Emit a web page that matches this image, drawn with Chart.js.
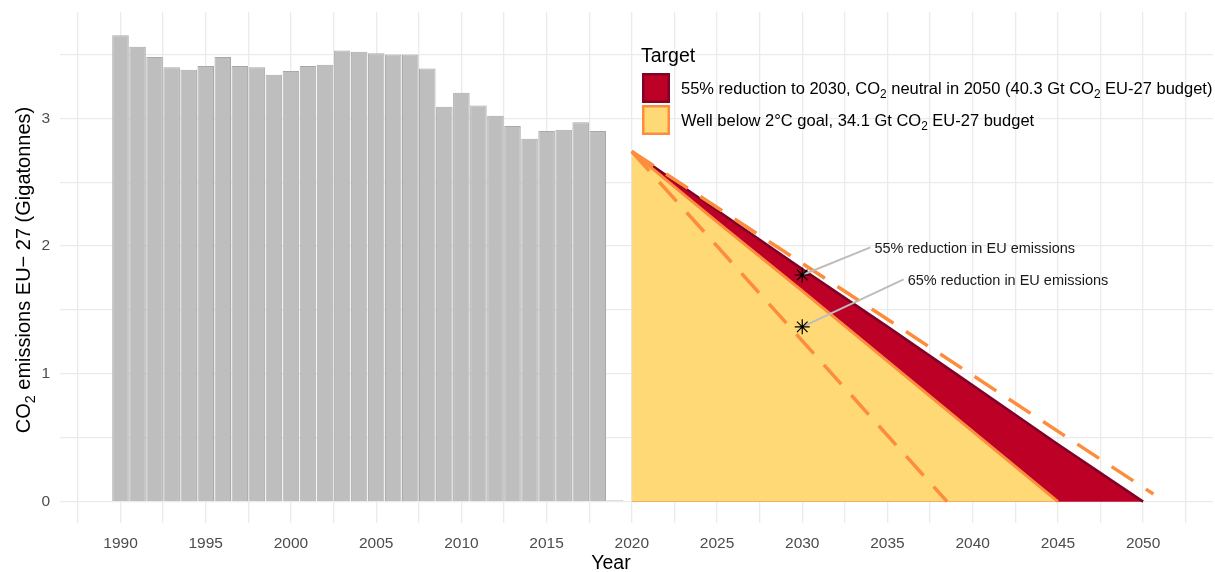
<!DOCTYPE html>
<html>
<head>
<meta charset="utf-8">
<script src="https://cdn.jsdelivr.net/npm/chart.js@4.4.1/dist/chart.umd.min.js"></script>
<style>
html,body{margin:0;padding:0;background:#ffffff;}
#wrap{width:1215px;height:572px;position:relative;}
</style>
</head>
<body>
<div id="wrap"><canvas id="c" width="1215" height="572"></canvas></div>
<script>
// ---------------- DATA ----------------
const histYears = [1990,1991,1992,1993,1994,1995,1996,1997,1998,1999,
                   2000,2001,2002,2003,2004,2005,2006,2007,2008,2009,
                   2010,2011,2012,2013,2014,2015,2016,2017,2018,2019];
const histEmissions = [3.65,3.56,3.48,3.40,3.38,3.41,3.48,3.41,3.40,3.34,
                       3.37,3.41,3.42,3.53,3.52,3.51,3.50,3.50,3.39,3.09,
                       3.20,3.10,3.02,2.94,2.84,2.90,2.91,2.97,2.90,0.012];

const neutralYears = [2020,2025,2030,2035,2040,2045,2050];
const neutralValues = [2.74,2.28,1.82,1.37,0.91,0.45,0.00];

const below2Years = [2020,2025,2030,2035,2040,2045];
const below2Values = [2.74,2.19,1.65,1.10,0.55,0.00];

const upperRefYears = [2020,2050.6];
const upperRefValues = [2.74,0.06];
const lowerRefYears = [2020,2038.5];
const lowerRefValues = [2.74,0.00];

const markerYears = [2030,2030];
const markerValues = [1.774,1.368];
const markerLabels = ['55% reduction in EU emissions','65% reduction in EU emissions'];
const labelYears = [2034.0,2035.95];
const labelValues = [1.99,1.74];

const xTickLabels = [1990,1995,2000,2005,2010,2015,2020,2025,2030,2035,2040,2045,2050];
const xGridYears = [1987.5,1990,1992.5,1995,1997.5,2000,2002.5,2005,2007.5,2010,2012.5,2015,2017.5,2020,
                    2022.5,2025,2027.5,2030,2032.5,2035,2037.5,2040,2042.5,2045,2047.5,2050,2052.5];
const yTickLabels = [0,1,2,3];
const yGridValues = [0,0.5,1,1.5,2,2.5,3,3.5];

const legendTitle = 'Target';
const legendLabels = [
  [['55% reduction to 2030, CO',0],['2',1],[' neutral in 2050 (40.3 Gt CO',0],['2',1],[' EU-27 budget)',0]],
  [['Well below 2°C goal, 34.1 Gt CO',0],['2',1],[' EU-27 budget',0]]
];
const yTitle = [['CO',0],['2',1],[' emissions EU\u2212 27 (Gigatonnes)',0]];
const xTitle = 'Year';

// ---------------- HELPERS ----------------
const FAM = '"Liberation Sans", Arial, Helvetica, sans-serif';
function pts(xs, ys){ return xs.map((x,i)=>({x:x, y:ys[i]})); }
function richWidth(ctx, parts, size){
  let w = 0;
  parts.forEach(p=>{ ctx.font = (p[1]? size*0.72 : size) + 'px ' + FAM; w += ctx.measureText(p[0]).width; });
  return w;
}
function drawRich(ctx, parts, x, y, size, align){
  const total = richWidth(ctx, parts, size);
  let cx = align === 'center' ? x - total/2 : x;
  ctx.textAlign = 'left';
  ctx.textBaseline = 'alphabetic';
  parts.forEach(p=>{
    ctx.font = (p[1]? size*0.72 : size) + 'px ' + FAM;
    ctx.fillText(p[0], cx, p[1] ? y + size*0.24 : y);
    cx += ctx.measureText(p[0]).width;
  });
}

const textPlugin = {
  id: 'textPlugin',
  afterDraw(chart){
    const ctx = chart.ctx;
    const xs = chart.scales.x, ys = chart.scales.y;
    ctx.save();
    // annotation labels
    ctx.fillStyle = '#1a1a1a';
    markerLabels.forEach((t,i)=>{
      const px = xs.getPixelForValue(labelYears[i]) + 4;
      const py = ys.getPixelForValue(labelValues[i]);
      ctx.font = '14.5px ' + FAM;
      ctx.textAlign = 'left';
      ctx.textBaseline = 'alphabetic';
      ctx.fillText(t, px, py + 5.2);
    });
    // legend
    ctx.fillStyle = '#000000';
    ctx.font = '19.5px ' + FAM;
    ctx.textAlign = 'left';
    ctx.textBaseline = 'alphabetic';
    ctx.fillText(legendTitle, 641, 62);
    const keys = [
      {fill:'#BD0026', stroke:'#800026', y:74},
      {fill:'#FED976', stroke:'#FD8D3C', y:106}
    ];
    keys.forEach((k,i)=>{
      ctx.fillStyle = k.fill;
      ctx.fillRect(643, k.y, 26, 28);
      ctx.strokeStyle = k.stroke;
      ctx.lineWidth = 2.5;
      ctx.strokeRect(643.25, k.y + 0.25, 25.5, 27.5);
      ctx.fillStyle = '#000000';
      drawRich(ctx, legendLabels[i], 681, k.y + 20, 16.5, 'left');
    });
    // x title
    ctx.fillStyle = '#000000';
    ctx.font = '19.5px ' + FAM;
    ctx.textAlign = 'center';
    ctx.fillText(xTitle, 611, 569);
    // y title
    ctx.translate(30, 270);
    ctx.rotate(-Math.PI/2);
    drawRich(ctx, yTitle, 0, 0, 20, 'center');
    ctx.restore();
  }
};

const tickFont = {family: FAM, size: 15.5};

new Chart(document.getElementById('c'), {
  type: 'bar',
  data: {
    datasets: [
      { type:'line', label:'markers', data: pts(markerYears, markerValues), showLine:false,
        pointStyle:'star', pointRadius:7.5, pointBorderColor:'#000000', pointBorderWidth:1.2,
        pointBackgroundColor:'#000000', order:0 },
      { type:'line', label:'conn1', data: [{x:markerYears[0], y:markerValues[0]},{x:labelYears[0], y:labelValues[0]}],
        borderColor:'#BDBDBD', borderWidth:2, pointRadius:0, fill:false, order:1 },
      { type:'line', label:'conn2', data: [{x:markerYears[1], y:markerValues[1]},{x:labelYears[1], y:labelValues[1]}],
        borderColor:'#BDBDBD', borderWidth:2, pointRadius:0, fill:false, order:1 },
      { type:'line', label:'upperRef', data: pts(upperRefYears, upperRefValues),
        borderColor:'#FD8D3C', borderWidth:3.5, borderDash:[26,15], borderCapStyle:'butt',
        pointRadius:0, fill:false, order:2 },
      { type:'line', label:'lowerRef', data: pts(lowerRefYears, lowerRefValues),
        borderColor:'#FD8D3C', borderWidth:3.5, borderDash:[26,15], borderCapStyle:'butt',
        pointRadius:0, fill:false, order:2 },
      { type:'line', label:'below2', data: pts(below2Years, below2Values),
        borderColor:'#FD8D3C', borderWidth:3, backgroundColor:'#FED976', fill:'origin',
        pointRadius:0, tension:0, order:3 },
      { type:'line', label:'neutral', data: pts(neutralYears, neutralValues),
        borderColor:'#800026', borderWidth:2.5, backgroundColor:'#BD0026', fill:'origin',
        pointRadius:0, tension:0, order:4 },
      { type:'bar', label:'hist', data: pts(histYears, histEmissions),
        backgroundColor:'#BEBEBE', borderColor:'#A8A8A8', borderWidth:1,
        barPercentage:0.97, categoryPercentage:1.0, order:5 }
    ]
  },
  options: {
    responsive:false,
    devicePixelRatio:1,
    animation:false,
    events:[],
    layout:{ autoPadding:false, padding:{ left:0, right:2, top:12, bottom:0 } },
    plugins:{ legend:{display:false}, tooltip:{enabled:false}, title:{display:false} },
    scales:{
      x:{
        type:'linear', min:1986.45, max:2054.1, offset:false,
        grid:{ color:'#EBEBEB', lineWidth:1.3, drawTicks:false, offset:false },
        border:{ display:false },
        ticks:{ font:tickFont, color:'#4D4D4D', padding:11, autoSkip:false, maxRotation:0, includeBounds:false,
          callback:(v)=> xTickLabels.includes(v) ? String(v) : '' },
        afterBuildTicks:(s)=>{ s.ticks = xGridYears.map(v=>({value:v})); },
        afterFit:(s)=>{ s.height = 49; s.paddingLeft = 0; s.paddingRight = 0; }
      },
      y:{
        type:'linear', min:-0.167, max:3.832,
        grid:{ color:'#EBEBEB', lineWidth:1.3, drawTicks:false },
        border:{ display:false },
        ticks:{ font:tickFont, color:'#4D4D4D', padding:10, includeBounds:false,
          callback:(v)=> yTickLabels.includes(v) ? String(v) : '' },
        afterBuildTicks:(s)=>{ s.ticks = yGridValues.map(v=>({value:v})); },
        afterFit:(s)=>{ s.width = 60; s.paddingTop = 0; s.paddingBottom = 0; }
      }
    }
  },
  plugins:[textPlugin]
});
</script>
</body>
</html>
